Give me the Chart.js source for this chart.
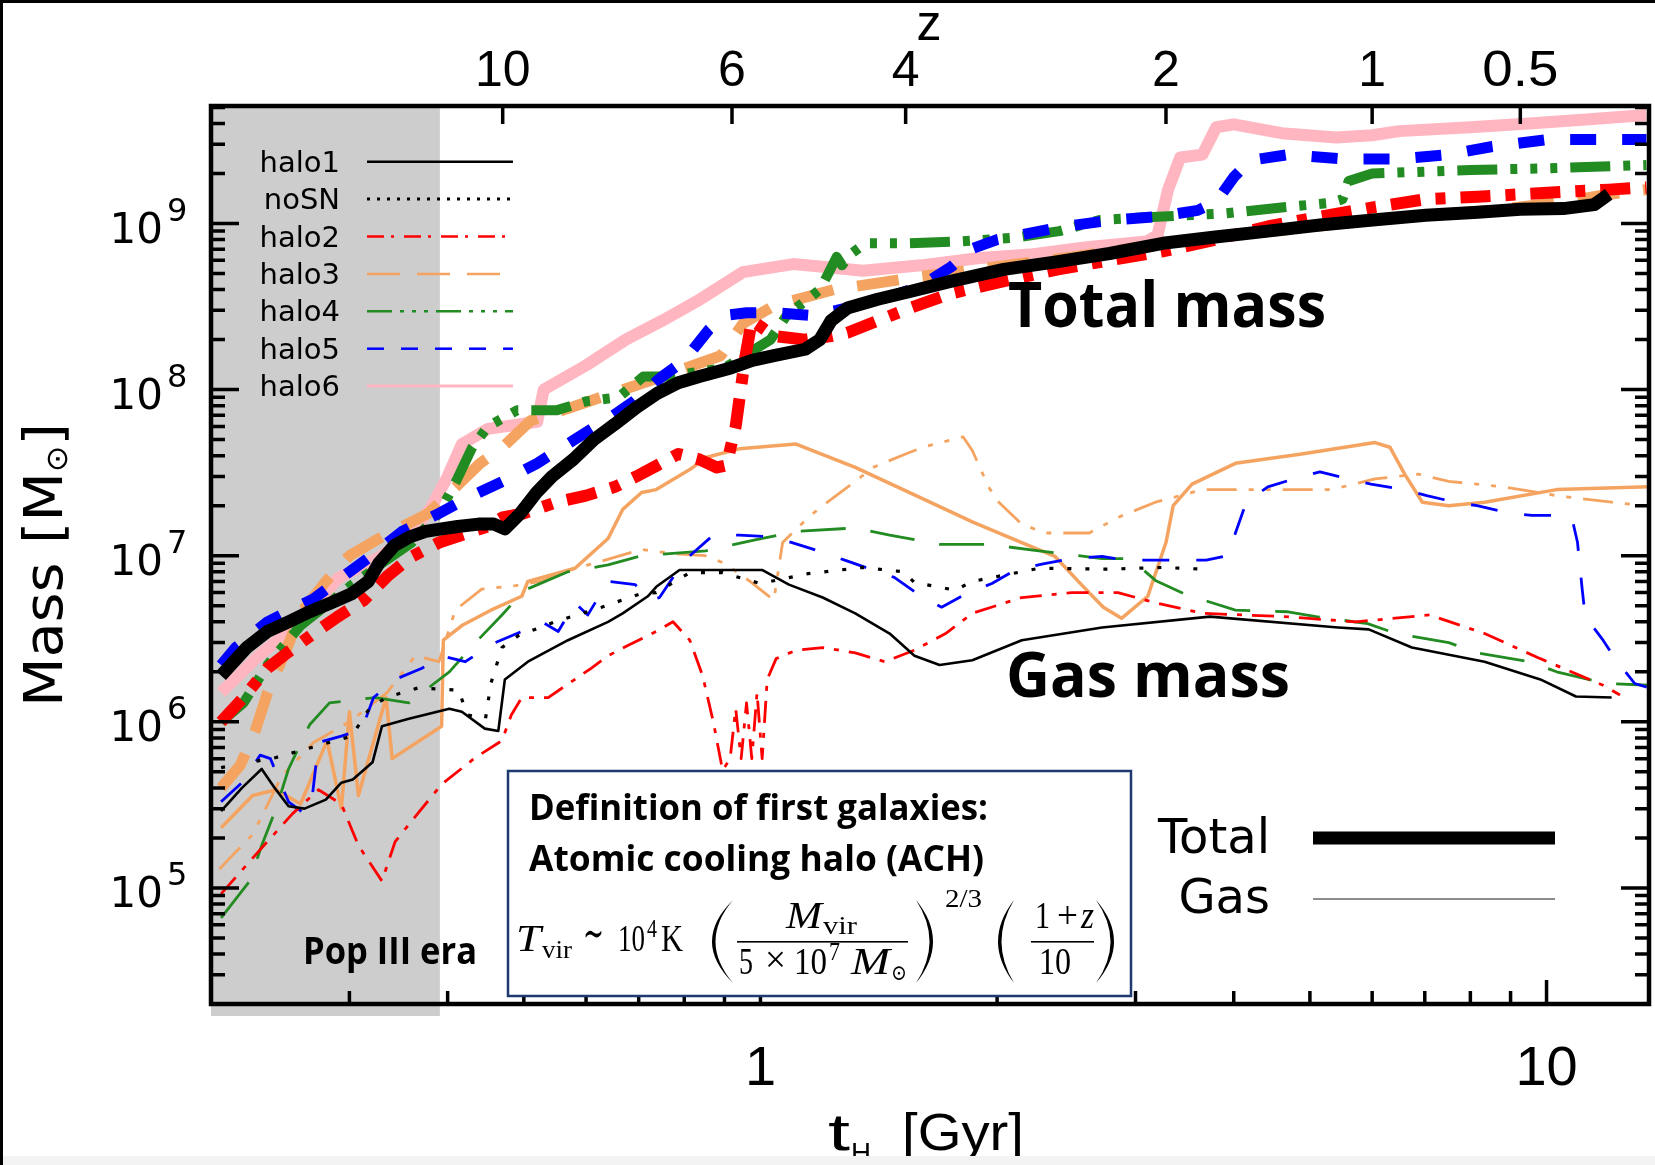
<!DOCTYPE html>
<html>
<head>
<meta charset="utf-8">
<title>Halo mass growth</title>
<script src="https://cdn.jsdelivr.net/npm/chart.js@4.4.1/dist/chart.umd.min.js"></script>
<style>
  html, body { margin: 0; padding: 0; background: #fff; overflow: hidden; }
  canvas { display: block; }
</style>
</head>
<body>
<canvas id="massChart" width="1655" height="1165"></canvas>
<script>
// axis ranges (age of the universe in Gyr, mass in solar masses)
const tMin = 0.2, tMax = 13.5;
const massMin = 2.0e4, massMax = 5.1e9;
const popIIIEnd = 0.391;

// redshift labels on the top axis and the ages where they sit
const zTickLabels = ['10', '6', '4', '2', '1', '0.5'];
const zTickAges = [0.47, 0.92, 1.53, 3.28, 6.0, 9.26];

// total (virial) mass, [t_H, M]
const halo1Total = [[0.206,1.9e6],[0.222,2.8e6],[0.236,3.5e6],[0.251,4.0e6],[0.267,4.6e6],[0.284,5.2e6],[0.302,5.9e6],[0.317,7.0e6],[0.327,9.0e6],[0.342,1.15e7],[0.358,1.3e7],[0.375,1.4e7],[0.393,1.45e7],[0.412,1.5e7],[0.438,1.55e7],[0.458,1.55e7],[0.473,1.45e7],[0.495,1.8e7],[0.519,2.4e7],[0.543,3.0e7],[0.578,3.8e7],[0.614,5.0e7],[0.653,6.2e7],[0.695,7.8e7],[0.739,9.5e7],[0.786,1.1e8],[0.836,1.2e8],[0.917,1.35e8],[0.976,1.5e8],[1.04,1.6e8],[1.14,1.75e8],[1.19,2.0e8],[1.23,2.6e8],[1.29,3.1e8],[1.41,3.5e8],[1.55,3.9e8],[1.75,4.5e8],[2.04,5.3e8],[2.39,5.9e8],[2.78,6.6e8],[3.25,7.6e8],[3.79,8.3e8],[4.42,9.0e8],[5.15,9.8e8],[6.01,1.05e9],[7.02,1.12e9],[8.18,1.17e9],[9.26,1.22e9],[10.5,1.23e9],[11.5,1.3e9],[12.0,1.5e9]];
const halo2Total = [[0.206,1.0e6],[0.22,1.4e6],[0.236,2.1e6],[0.25,2.6e6],[0.27,3.4e6],[0.29,4.3e6],[0.313,5.4e6],[0.335,7.5e6],[0.359,9.8e6],[0.39,1.2e7],[0.42,1.35e7],[0.45,1.5e7],[0.47,1.7e7],[0.50,1.8e7],[0.55,2.1e7],[0.60,2.3e7],[0.653,2.6e7],[0.695,3.0e7],[0.739,3.5e7],[0.786,4.1e7],[0.836,3.8e7],[0.88,3.4e7],[0.905,3.5e7],[0.93,6.0e7],[0.955,1.5e8],[0.975,2.6e8],[1.0,2.4e8],[1.04,2.1e8],[1.14,2.0e8],[1.23,2.1e8],[1.29,2.2e8],[1.41,2.6e8],[1.55,3.1e8],[1.75,3.8e8],[2.04,4.5e8],[2.39,5.3e8],[2.78,6.0e8],[3.25,6.8e8],[3.79,8.0e8],[4.42,9.6e8],[5.15,1.1e9],[6.01,1.25e9],[7.02,1.4e9],[8.18,1.45e9],[9.26,1.5e9],[10.5,1.55e9],[12.0,1.6e9],[13.4,1.65e9]];
const halo3Total = [[0.206,4.0e5],[0.218,5.5e5],[0.228,9.0e5],[0.236,1.5e6],[0.25,2.8e6],[0.26,4.5e6],[0.28,7.0e6],[0.30,1.0e7],[0.33,1.3e7],[0.36,1.6e7],[0.378,1.8e7],[0.41,2.6e7],[0.44,3.6e7],[0.47,4.5e7],[0.51,6.5e7],[0.56,7.5e7],[0.64,9.3e7],[0.75,1.2e8],[0.89,1.6e8],[0.95,2.5e8],[1.04,3.2e8],[1.24,4.0e8],[1.6,4.8e8],[2.0,5.5e8],[2.5,6.3e8],[3.2,7.5e8],[4.0,8.5e8],[5.0,9.5e8],[6.0,1.05e9],[7.0,1.12e9],[8.5,1.2e9],[10.5,1.35e9],[12.0,1.5e9],[13.4,1.6e9]];
const halo4Total = [[0.206,1.0e6],[0.22,1.3e6],[0.236,2.2e6],[0.26,3.8e6],[0.28,5.0e6],[0.30,6.5e6],[0.33,9.0e6],[0.36,1.2e7],[0.39,1.8e7],[0.41,2.8e7],[0.43,4.5e7],[0.45,6.0e7],[0.49,7.5e7],[0.55,7.5e7],[0.60,8.5e7],[0.66,9.0e7],[0.71,1.2e8],[0.76,1.2e8],[0.90,1.35e8],[1.03,2.0e8],[1.08,2.8e8],[1.19,4.0e8],[1.22,5.0e8],[1.25,6.3e8],[1.27,5.6e8],[1.30,6.5e8],[1.36,7.6e8],[1.53,7.6e8],[1.8,7.8e8],[2.1,8.2e8],[2.4,9.0e8],[2.7,1.05e9],[3.2,1.1e9],[3.9,1.15e9],[4.6,1.25e9],[5.3,1.33e9],[5.5,1.4e9],[5.6,1.8e9],[6.0,2.0e9],[8.0,2.1e9],[10.0,2.15e9],[13.4,2.25e9]];
const halo5Total = [[0.206,2.2e6],[0.215,2.8e6],[0.236,4.0e6],[0.27,5.5e6],[0.30,8.0e6],[0.32,1.0e7],[0.35,1.4e7],[0.39,1.8e7],[0.43,2.3e7],[0.47,2.8e7],[0.52,3.6e7],[0.58,5.0e7],[0.65,7.0e7],[0.69,8.5e7],[0.75,1.2e8],[0.80,1.5e8],[0.86,2.3e8],[0.90,2.8e8],[0.96,2.9e8],[1.05,2.9e8],[1.15,2.8e8],[1.25,3.0e8],[1.4,3.4e8],[1.6,4.2e8],[1.75,5.5e8],[1.85,7.0e8],[2.0,8.0e8],[2.4,9.5e8],[2.8,1.05e9],[3.2,1.1e9],[3.6,1.2e9],[3.8,1.35e9],[4.0,1.9e9],[4.2,2.4e9],[4.7,2.6e9],[5.5,2.45e9],[6.5,2.45e9],[7.5,2.6e9],[8.5,2.9e9],[10.0,3.2e9],[13.4,3.2e9]];
const halo6Total = [[0.206,1.5e6],[0.23,2.5e6],[0.26,4.0e6],[0.29,7.3e6],[0.33,1.0e7],[0.36,1.4e7],[0.38,1.9e7],[0.40,3.0e7],[0.417,4.7e7],[0.45,5.8e7],[0.52,6.4e7],[0.53,1.0e8],[0.60,1.4e8],[0.674,2.0e8],[0.75,2.6e8],[0.83,3.4e8],[0.95,5.1e8],[1.1,5.7e8],[1.2,5.5e8],[1.35,5.2e8],[1.6,5.6e8],[1.9,6.2e8],[2.2,6.5e8],[2.6,7.2e8],[3.1,7.8e8],[3.2,8.5e8],[3.3,1.6e9],[3.42,2.5e9],[3.65,2.6e9],[3.8,3.8e9],[4.0,3.95e9],[4.6,3.5e9],[5.4,3.3e9],[6.0,3.4e9],[6.5,3.6e9],[8.0,3.8e9],[9.5,4.0e9],[11.0,4.2e9],[13.4,4.5e9]];

// gas mass, [t_H, M]
const halo1Gas = [[0.206,2.9e5],[0.219,4.0e5],[0.232,5.2e5],[0.241,4.0e5],[0.251,3.1e5],[0.263,3.0e5],[0.280,3.4e5],[0.293,4.3e5],[0.303,4.5e5],[0.321,5.7e5],[0.330,9.4e5],[0.356,1.04e6],[0.402,1.2e6],[0.417,1.15e6],[0.446,9.1e5],[0.464,8.8e5],[0.473,1.8e6],[0.506,2.3e6],[0.569,3.1e6],[0.640,4.0e6],[0.668,4.5e6],[0.719,5.7e6],[0.737,6.5e6],[0.789,8.2e6],[1.006,8.2e6],[1.087,6.7e6],[1.20,5.6e6],[1.32,4.5e6],[1.46,3.4e6],[1.57,2.5e6],[1.69,2.2e6],[1.86,2.35e6],[2.15,3.1e6],[2.72,3.7e6],[3.73,4.3e6],[5.43,3.7e6],[5.94,3.6e6],[6.74,2.8e6],[8.34,2.3e6],[9.82,1.8e6],[10.9,1.42e6],[12.1,1.4e6]];
const noSNGas = [[0.206,5.3e5],[0.242,6.1e5],[0.302,8.2e5],[0.318,1.2e6],[0.334,1.4e6],[0.367,1.6e6],[0.413,1.55e6],[0.424,1.1e6],[0.447,1.05e6],[0.454,1.7e6],[0.469,2.8e6],[0.492,3.3e6],[0.548,4.0e6],[0.628,4.9e6],[0.704,5.9e6],[0.737,6.0e6],[0.813,7.9e6],[0.895,7.9e6],[1.0,6.8e6],[1.15,7.8e6],[1.35,8.5e6],[1.52,8.0e6],[1.57,6.9e6],[1.77,6.2e6],[1.86,7.0e6],[2.26,8.4e6],[2.78,8.3e6],[3.25,8.5e6],[3.65,8.3e6]];
const halo2Gas = [[0.206,9.2e4],[0.231,1.7e5],[0.254,2.8e5],[0.274,3.9e5],[0.293,3.2e5],[0.308,1.8e5],[0.330,1.1e5],[0.343,1.9e5],[0.364,2.7e5],[0.393,4.2e5],[0.434,6.1e5],[0.469,7.7e5],[0.482,1.1e6],[0.497,1.4e6],[0.537,1.4e6],[0.609,2.1e6],[0.640,2.5e6],[0.68,2.9e6],[0.737,3.5e6],[0.774,4.0e6],[0.813,3.1e6],[0.844,1.9e6],[0.871,1.0e6],[0.895,5.1e5],[0.915,6.0e5],[0.93,1.2e6],[0.945,6.0e5],[0.96,1.3e6],[0.975,6.0e5],[0.99,1.5e6],[1.005,6.0e5],[1.02,1.8e6],[1.047,2.4e6],[1.11,2.7e6],[1.20,2.8e6],[1.32,2.6e6],[1.44,2.3e6],[1.57,2.7e6],[1.72,3.4e6],[1.86,4.5e6],[2.15,5.6e6],[2.49,6.0e6],[2.85,6.0e6],[3.18,5.2e6],[3.65,4.5e6],[4.63,4.3e6],[5.72,4.0e6],[7.10,4.4e6],[8.34,3.4e6],[9.82,2.4e6],[11.8,1.66e6],[12.4,1.45e6]];
const halo3Gas = [[0.205,1.3e5],[0.226,2.1e5],[0.246,4.7e5],[0.27,7.5e5],[0.30,1.0e6],[0.335,1.5e6],[0.364,2.5e6],[0.39,2.3e6],[0.409,4.7e6],[0.442,6.3e6],[0.488,6.6e6],[0.525,7.0e6],[0.581,8.4e6],[0.609,8.9e6],[0.706,1.09e7],[0.774,1.03e7],[0.85,1.0e7],[0.90,9.0e6],[0.97,7.0e6],[1.04,5.4e6],[1.067,1.2e7],[1.15,1.7e7],[1.20,2.0e7],[1.32,2.8e7],[1.39,3.4e7],[1.53,4.1e7],[1.61,4.5e7],[1.81,5.2e7],[1.86,4.3e7],[1.95,2.6e7],[2.01,2.1e7],[2.15,1.55e7],[2.30,1.37e7],[2.62,1.37e7],[2.85,1.7e7],[3.18,2.1e7],[3.65,2.5e7],[4.19,2.5e7],[5.33,2.5e7],[6.05,2.9e7],[6.87,3.1e7],[7.51,2.8e7],[8.81,2.6e7],[10.3,2.3e7],[12.1,2.1e7],[13.4,2.0e7]];
const halo4Gas = [[0.206,6.6e4],[0.224,1.1e5],[0.232,1.8e5],[0.242,3.0e5],[0.251,5.2e5],[0.267,9.6e5],[0.283,1.3e6],[0.311,1.37e6],[0.324,1.4e6],[0.357,1.3e6],[0.402,2.0e6],[0.434,3.0e6],[0.469,4.4e6],[0.501,6.2e6],[0.569,8.0e6],[0.640,8.8e6],[0.706,1.0e7],[0.852,1.07e7],[0.988,1.25e7],[1.11,1.4e7],[1.32,1.47e7],[1.46,1.33e7],[1.69,1.17e7],[1.95,1.17e7],[2.26,1.07e7],[2.72,9.6e6],[2.91,9.6e6],[3.01,8.9e6],[3.18,7.1e6],[3.54,5.6e6],[3.71,5.3e6],[4.02,4.7e6],[4.67,4.6e6],[5.09,4.3e6],[5.92,3.9e6],[6.44,3.4e6],[7.51,3.0e6],[8.16,2.6e6],[9.52,2.3e6],[10.3,2.0e6],[11.9,1.7e6],[13.5,1.66e6]];
const halo5Gas = [[0.206,3.3e5],[0.219,4.3e5],[0.231,6.3e5],[0.238,6.0e5],[0.251,3.3e5],[0.263,2.8e5],[0.269,3.5e5],[0.274,7.5e5],[0.293,8.2e5],[0.311,9.0e5],[0.322,1.4e6],[0.343,1.8e6],[0.371,2.1e6],[0.393,2.5e6],[0.421,2.3e6],[0.460,3.0e6],[0.497,3.5e6],[0.527,4.0e6],[0.553,3.5e6],[0.581,5.2e6],[0.603,4.4e6],[0.640,7.0e6],[0.693,6.7e6],[0.723,5.4e6],[0.744,5.6e6],[0.789,8.5e6],[0.813,1.0e7],[0.871,1.33e7],[0.940,1.33e7],[1.028,1.3e7],[1.097,1.2e7],[1.20,1.05e7],[1.28,9.4e6],[1.39,8.2e6],[1.48,7.4e6],[1.61,5.6e6],[1.70,4.9e6],[1.84,6.0e6],[1.97,6.8e6],[2.11,8.2e6],[2.28,8.9e6],[2.49,9.6e6],[2.72,9.9e6],[2.91,9.4e6],[3.18,9.4e6],[3.69,9.4e6],[3.93,1.0e7],[4.02,1.37e7],[4.15,2.1e7],[4.42,2.6e7],[4.77,2.9e7],[5.15,3.2e7],[5.60,2.9e7],[5.98,2.7e7],[6.58,2.5e7],[7.04,2.3e7],[7.65,2.1e7],[8.16,2.0e7],[9.01,1.8e7],[9.58,1.75e7],[10.6,1.75e7],[10.8,1.6e7],[10.95,1.2e7],[11.1,6.3e6],[11.2,4.3e6],[11.8,3.1e6],[12.3,2.3e6],[12.95,1.7e6],[13.5,1.6e6]];
const halo6Gas = [[0.206,2.3e5],[0.226,3.6e5],[0.242,3.9e5],[0.260,3.2e5],[0.281,7.7e5],[0.293,3.0e5],[0.300,1.15e6],[0.308,3.6e5],[0.334,1.4e6],[0.340,6.0e5],[0.393,9.4e5],[0.395,3.1e6],[0.417,3.8e6],[0.454,4.7e6],[0.497,5.7e6],[0.506,7.0e6],[0.581,8.4e6],[0.640,1.27e7],[0.668,1.9e7],[0.706,2.4e7],[0.737,2.5e7],[0.813,3.3e7],[0.852,3.9e7],[0.940,4.4e7],[1.11,4.7e7],[1.32,3.4e7],[1.61,2.2e7],[1.86,1.6e7],[2.15,1.2e7],[2.37,9.9e6],[2.56,6.7e6],[2.73,4.9e6],[2.88,4.2e6],[3.11,5.7e6],[3.28,1.2e7],[3.35,2.0e7],[3.54,2.7e7],[4.02,3.6e7],[4.88,4.1e7],[6.05,4.8e7],[6.32,4.5e7],[6.60,3.1e7],[6.95,2.1e7],[7.51,2.0e7],[8.34,2.1e7],[10.3,2.5e7],[13.5,2.6e7]];

const BLACK = '#000000', RED = '#ff0000', ORANGE = '#f4a460',
      GREEN = '#228b22', BLUE = '#0000ff', PINK = '#ffb6c1';

function line(pairs, color, width, dash) {
  return {
    data: pairs.map(p => ({ x: p[0], y: p[1] })),
    borderColor: color,
    borderWidth: width,
    borderDash: dash,
    borderCapStyle: 'butt',
    borderJoinStyle: 'round',
    pointRadius: 0,
    tension: 0,
    fill: false,
    clip: 0
  };
}

// first dataset ends up on top
const datasets = [
  line(halo1Total, BLACK, 13, []),
  line(halo2Total, RED, 12, [30, 15, 10, 15]),
  line(halo5Total, BLUE, 11, [26, 26]),
  line(halo4Total, GREEN, 10, [40, 13, 7, 13, 7, 13, 7, 13]),
  line(halo3Total, ORANGE, 11, [42, 24]),
  line(halo6Total, PINK, 12, []),
  line(halo1Gas, BLACK, 2.6, []),
  line(noSNGas, BLACK, 3.2, [4, 14]),
  line(halo2Gas, RED, 2.8, [22, 10, 5, 10]),
  line(halo5Gas, BLUE, 2.8, [27, 27]),
  line(halo4Gas, GREEN, 2.8, [45, 25]),
  line(halo3Gas, ORANGE, 2.8, [30, 12, 5, 12, 5, 12]),
  line(halo6Gas, ORANGE, 3.5, [])
];

// draws a run of text pieces [text, font, dy], optionally squeezed to a width
function rich(ctx, parts, x, y, opt) {
  opt = opt || {};
  let w = 0;
  for (const p of parts) { ctx.font = p[1]; w += ctx.measureText(p[0]).width; }
  const sx = opt.width ? opt.width / w : 1;
  ctx.save();
  ctx.translate(x, y);
  if (opt.rot) ctx.rotate(opt.rot);
  ctx.scale(sx, 1);
  ctx.textAlign = 'left';
  ctx.textBaseline = 'alphabetic';
  let cx = opt.align === 'center' ? -w / 2 : opt.align === 'right' ? -w : 0;
  for (const p of parts) {
    ctx.font = p[1];
    ctx.fillText(p[0], cx, p[2] || 0);
    cx += ctx.measureText(p[0]).width;
  }
  ctx.restore();
}

function put(ctx, text, x0, x1, base, font) {
  rich(ctx, [[text, font]], x0, base, { width: x1 - x0 });
}

function paren(ctx, left, x0, x1, yt, yb) {
  const mid = (yt + yb) / 2;
  ctx.beginPath();
  if (left) {
    ctx.moveTo(x1, yt);
    ctx.quadraticCurveTo(2 * x0 - x1, mid, x1, yb);
    ctx.quadraticCurveTo(2 * (x0 + 3.5) - x1, mid, x1, yt);
  } else {
    ctx.moveTo(x0, yt);
    ctx.quadraticCurveTo(2 * x1 - x0, mid, x0, yb);
    ctx.quadraticCurveTo(2 * (x1 - 3.5) - x0, mid, x0, yt);
  }
  ctx.fill();
}

const SANS = '"DejaVu Sans", sans-serif';
const HELV = '"Liberation Sans", Arial, sans-serif';
const BOLD = 'bold {s}px "Open Sans", "DejaVu Sans", sans-serif';
const SERIF = '"Liberation Serif", "DejaVu Serif", serif';
const bold = s => BOLD.replace('{s}', s);

const popIIIBand = {
  id: 'popIIIBand',
  beforeDatasetsDraw(chart) {
    const { ctx, chartArea } = chart;
    const xEnd = chart.scales.x.getPixelForValue(popIIIEnd);
    ctx.save();
    ctx.fillStyle = '#cdcdcd';
    ctx.fillRect(chartArea.left, chartArea.top, xEnd - chartArea.left, chartArea.bottom + 12 - chartArea.top);
    ctx.restore();
  }
};

const frameAndLabels = {
  id: 'frameAndLabels',
  afterDatasetsDraw(chart) {
    const { ctx, chartArea: a } = chart;
    const xs = chart.scales.x, ys = chart.scales.y;
    ctx.save();
    ctx.fillStyle = '#000';
    ctx.strokeStyle = '#000';
    ctx.lineCap = 'butt';
    ctx.setLineDash([]);

    // inward ticks on the mass axes
    ctx.lineWidth = 3.5;
    for (let e = 4; e <= 9; e++) {
      for (let k = 1; k <= 9; k++) {
        const v = k * Math.pow(10, e);
        if (v <= massMin || v >= massMax) continue;
        const y = ys.getPixelForValue(v);
        const len = k === 1 ? 28 : 14;
        ctx.beginPath();
        ctx.moveTo(a.left, y); ctx.lineTo(a.left + len, y);
        ctx.moveTo(a.right, y); ctx.lineTo(a.right - len, y);
        ctx.stroke();
      }
    }
    // inward ticks on the time axis
    for (let e = -1; e <= 1; e++) {
      for (let k = 1; k <= 9; k++) {
        const v = k * Math.pow(10, e);
        if (v <= tMin || v >= tMax) continue;
        const x = xs.getPixelForValue(v);
        const len = k === 1 ? 24 : 13;
        ctx.beginPath();
        ctx.moveTo(x, a.bottom); ctx.lineTo(x, a.bottom - len);
        ctx.stroke();
      }
    }
    // redshift ticks along the top
    zTickAges.forEach((t, i) => {
      const x = xs.getPixelForValue(t);
      ctx.beginPath();
      ctx.moveTo(x, a.top); ctx.lineTo(x, a.top + 18);
      ctx.stroke();
      rich(ctx, [[zTickLabels[i], '50px ' + HELV]], x, 86,
        { align: 'center', width: zTickLabels[i] === '0.5' ? 76 : undefined });
    });
    rich(ctx, [['z', '50px ' + HELV]], 929, 40, { align: 'center' });

    // frame
    ctx.lineWidth = 4.5;
    ctx.strokeRect(a.left, a.top, a.right - a.left, a.bottom - a.top);

    // mass tick labels
    for (let e = 5; e <= 9; e++) {
      const y = ys.getPixelForValue(Math.pow(10, e));
      rich(ctx, [['10', '42px ' + SANS]], 163, y + 19, { align: 'right' });
      rich(ctx, [[String(e), '32px ' + SANS]], 167, y - 3);
    }
    // time tick labels
    [1, 10].forEach(v => {
      rich(ctx, [[String(v), '56px ' + HELV]], xs.getPixelForValue(v), 1085, { align: 'center' });
    });

    // axis titles
    rich(ctx, [['t', '52px ' + HELV]], 828, 1150, { width: 22 });
    rich(ctx, [['H', '30px ' + HELV]], 851, 1163, { width: 20 });
    rich(ctx, [['[Gyr]', '52px ' + HELV]], 902, 1150, { width: 122 });
    rich(ctx, [['Mass [M', '54px ' + SANS], ['\u2299', '30px ' + SANS, 5], [']', '54px ' + SANS]],
      62, 707, { rot: -Math.PI / 2, width: 284 });

    // line-style key
    const keyX0 = 367, keyX1 = 513;
    const keys = [
      ['halo1', BLACK, 2.5, []],
      ['noSN', BLACK, 3, [3, 7]],
      ['halo2', RED, 2.5, [17, 7, 3, 10]],
      ['halo3', ORANGE, 2.5, [33, 17]],
      ['halo4', GREEN, 2.5, [25, 8, 4, 8, 4, 8, 4, 8]],
      ['halo5', BLUE, 2.5, [17, 17]],
      ['halo6', PINK, 3, []]
    ];
    keys.forEach((k, i) => {
      const y = 161.7 + i * 37.4;
      ctx.fillStyle = '#000';
      rich(ctx, [[k[0], '29px ' + SANS]], 340, y + 10, { align: 'right' });
      ctx.strokeStyle = k[1];
      ctx.lineWidth = k[2];
      ctx.setLineDash(k[3]);
      ctx.beginPath();
      ctx.moveTo(keyX0, y); ctx.lineTo(keyX1, y);
      ctx.stroke();
    });
    ctx.setLineDash([]);
    ctx.strokeStyle = '#000';
    ctx.fillStyle = '#000';

    // total / gas key
    rich(ctx, [['Total', '48px ' + SANS]], 1270, 853, { align: 'right' });
    rich(ctx, [['Gas', '48px ' + SANS]], 1270, 913, { align: 'right' });
    ctx.lineWidth = 13;
    ctx.beginPath(); ctx.moveTo(1313, 838); ctx.lineTo(1555, 838); ctx.stroke();
    ctx.strokeStyle = '#666';
    ctx.lineWidth = 1.6;
    ctx.beginPath(); ctx.moveTo(1313, 899); ctx.lineTo(1555, 899); ctx.stroke();

    // annotations
    ctx.fillStyle = '#000';
    rich(ctx, [['Total mass', bold(62)]], 1008, 327, { width: 318 });
    rich(ctx, [['Gas mass', bold(62)]], 1006, 697, { width: 284 });
    rich(ctx, [['Pop III era', bold(38)]], 303, 964, { width: 174 });

    // definition box
    ctx.fillStyle = '#fff';
    ctx.fillRect(508, 771, 623, 225);
    ctx.strokeStyle = '#1f3a6e';
    ctx.lineWidth = 2.5;
    ctx.strokeRect(508, 771, 623, 225);
    ctx.fillStyle = '#000';
    rich(ctx, [['Definition of first galaxies:', bold(36)]], 529, 820, { width: 459 });
    rich(ctx, [['Atomic cooling halo (ACH)', bold(36)]], 529, 871, { width: 455 });

    // T_vir ~ 10^4 K (M_vir / 5x10^7 Msun)^(2/3) ((1+z)/10)
    const it = 'italic 38px ' + SERIF, rm = '38px ' + SERIF, sm = '26px ' + SERIF;
    put(ctx, 'T', 516, 541, 951, it);
    put(ctx, 'vir', 542, 572, 958, sm);
    put(ctx, '\u223C', 583, 604, 948, '44px ' + SERIF);
    put(ctx, '10', 618, 645, 951, rm);
    put(ctx, '4', 647, 657, 937, sm);
    put(ctx, 'K', 661, 683, 951, rm);
    paren(ctx, true, 712, 733, 900, 983);
    put(ctx, 'M', 786, 822, 928, it);
    put(ctx, 'vir', 823, 857, 934, sm);
    ctx.fillRect(737, 941, 171, 1.6);
    put(ctx, '5', 739, 753, 974, rm);
    put(ctx, '\u00D7', 765, 786, 972, rm);
    put(ctx, '10', 794, 827, 974, rm);
    put(ctx, '7', 829, 840, 960, sm);
    put(ctx, 'M', 851, 890, 974, it);
    put(ctx, '\u2299', 891, 907, 980, '22px ' + SERIF);
    paren(ctx, false, 916, 933, 900, 983);
    put(ctx, '2/3', 945, 982, 907, sm);
    paren(ctx, true, 998, 1014, 900, 983);
    put(ctx, '1', 1035, 1050, 928, rm);
    put(ctx, '+', 1057, 1078, 928, rm);
    put(ctx, 'z', 1081, 1094, 928, it);
    ctx.fillRect(1031, 941, 63, 1.6);
    put(ctx, '10', 1039, 1071, 974, rm);
    paren(ctx, false, 1096, 1114, 900, 983);

    // page edges
    ctx.fillStyle = '#000';
    ctx.fillRect(0, 0, 1655, 3);
    ctx.fillRect(0, 0, 3, 1165);
    ctx.fillStyle = '#f3f3f3';
    ctx.fillRect(3, 1156, 1652, 9);
    ctx.restore();
  }
};

new Chart(document.getElementById('massChart'), {
  type: 'line',
  data: { datasets },
  options: {
    responsive: false,
    animation: false,
    devicePixelRatio: 1,
    layout: { padding: { left: 211, top: 106, right: 6, bottom: 161 } },
    scales: {
      x: { type: 'logarithmic', min: tMin, max: tMax, display: false },
      y: { type: 'logarithmic', min: massMin, max: massMax, display: false }
    },
    plugins: { legend: { display: false }, tooltip: { enabled: false } }
  },
  plugins: [popIIIBand, frameAndLabels]
});
</script>
</body>
</html>
